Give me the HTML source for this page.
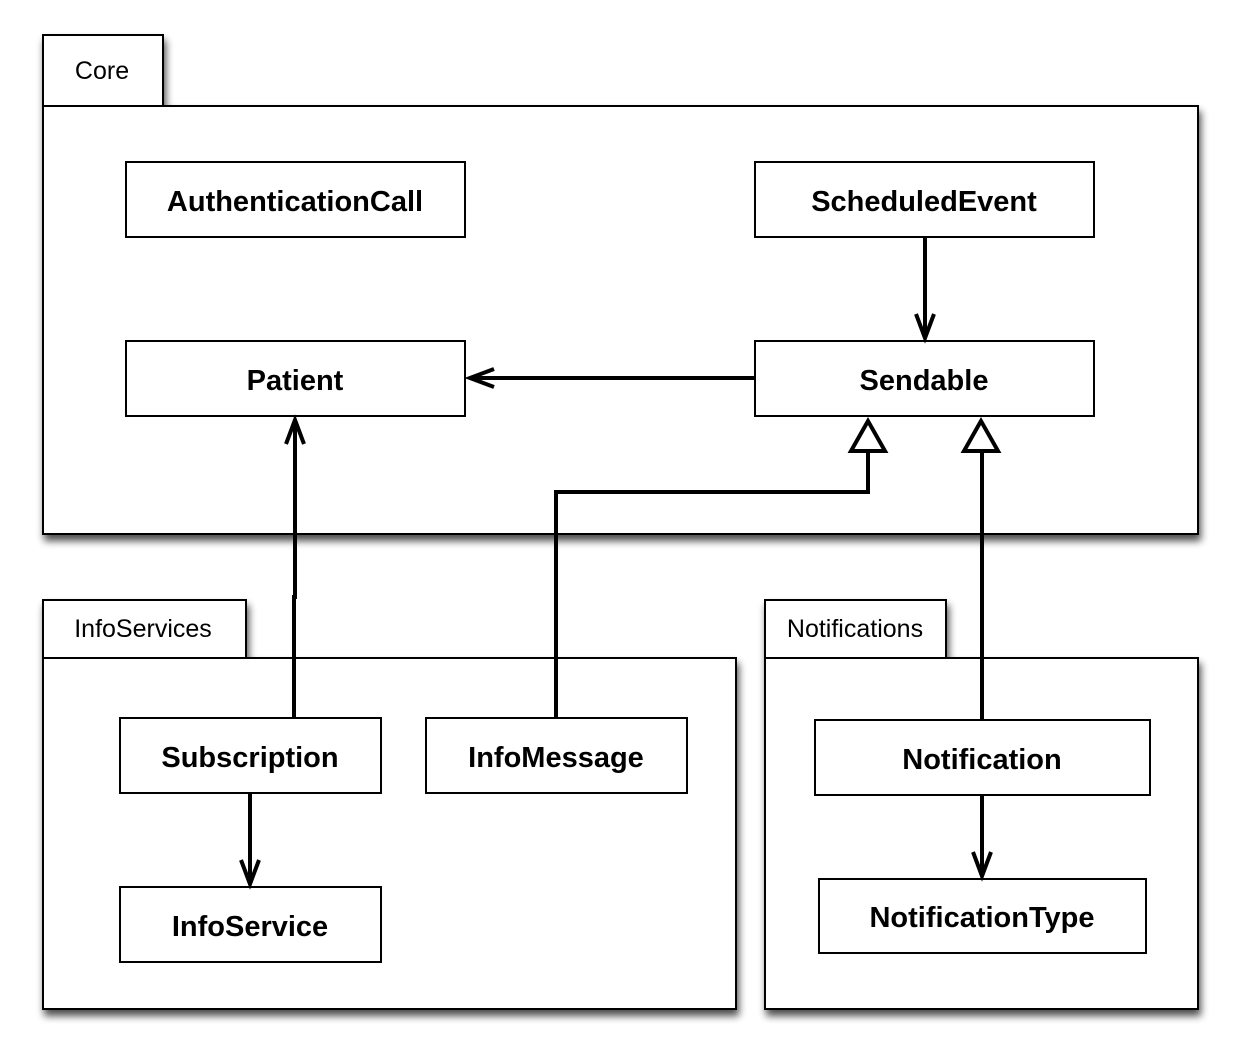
<!DOCTYPE html>
<html><head><meta charset="utf-8"><style>
html,body{margin:0;padding:0;background:#fff;}
svg{display:block;}
text{font-family:"Liberation Sans",Arial,sans-serif;}
.b{font-weight:bold;font-size:29px;}
.t{font-size:25px;}
</style></head><body>
<svg width="1242" height="1059" viewBox="0 0 1242 1059" xmlns="http://www.w3.org/2000/svg">
<defs>
<filter id="sh" x="-10%" y="-10%" width="120%" height="130%">
<feGaussianBlur in="SourceAlpha" stdDeviation="4"/>
<feOffset dx="2" dy="6" result="o"/>
<feComponentTransfer><feFuncA type="linear" slope="0.7"/></feComponentTransfer>
<feMerge><feMergeNode/><feMergeNode in="SourceGraphic"/></feMerge>
</filter>
</defs>
<g fill="#fff" stroke="#000" stroke-width="2">
<g filter="url(#sh)">
<path d="M43,35 H163 V106 H1198 V534 H43 Z"/>
<path d="M43,600 H246 V658 H736 V1009 H43 Z"/>
<path d="M765,600 H946 V658 H1198 V1009 H765 Z"/>
</g>
<line x1="43" y1="106" x2="163" y2="106"/>
<line x1="43" y1="658" x2="246" y2="658"/>
<line x1="765" y1="658" x2="946" y2="658"/>
<rect x="126" y="162" width="339" height="75"/>
<rect x="755" y="162" width="339" height="75"/>
<rect x="126" y="341" width="339" height="75"/>
<rect x="755" y="341" width="339" height="75"/>
<rect x="120" y="718" width="261" height="75"/>
<rect x="426" y="718" width="261" height="75"/>
<rect x="120" y="887" width="261" height="75"/>
<rect x="815" y="720" width="335" height="75"/>
<rect x="819" y="879" width="327" height="74"/>
</g>
<g fill="none" stroke="#000" stroke-width="4">
<line x1="925" y1="237" x2="925" y2="338"/>
<polyline points="916,314 925,338 934,314"/>
<line x1="755" y1="378" x2="472" y2="378"/>
<polyline points="494,369 470,378 494,387"/>
<polyline points="294,718 294,597 295,597 295,422"/>
<polyline points="286,444 295,420 304,444"/>
<line x1="250" y1="793" x2="250" y2="882"/>
<polyline points="241,860 250,884 259,860"/>
<line x1="982" y1="795" x2="982" y2="874"/>
<polyline points="973,852 982,876 991,852"/>
<polyline points="556,718 556,492 868,492 868,452"/>
<line x1="982" y1="720" x2="982" y2="452"/>
<polygon points="868,421 851,451 885,451" fill="#fff"/>
<polygon points="981,421 964,451 998,451" fill="#fff"/>
</g>
<g text-anchor="middle">
<text class="t" x="102" y="79">Core</text>
<text class="t" x="143" y="637">InfoServices</text>
<text class="t" x="855" y="637">Notifications</text>
<text class="b" x="295" y="211">AuthenticationCall</text>
<text class="b" x="924" y="211">ScheduledEvent</text>
<text class="b" x="295" y="390">Patient</text>
<text class="b" x="924" y="390">Sendable</text>
<text class="b" x="250" y="767">Subscription</text>
<text class="b" x="556" y="767">InfoMessage</text>
<text class="b" x="250" y="936">InfoService</text>
<text class="b" x="982" y="769">Notification</text>
<text class="b" x="982" y="927">NotificationType</text>
</g>
</svg>
</body></html>
